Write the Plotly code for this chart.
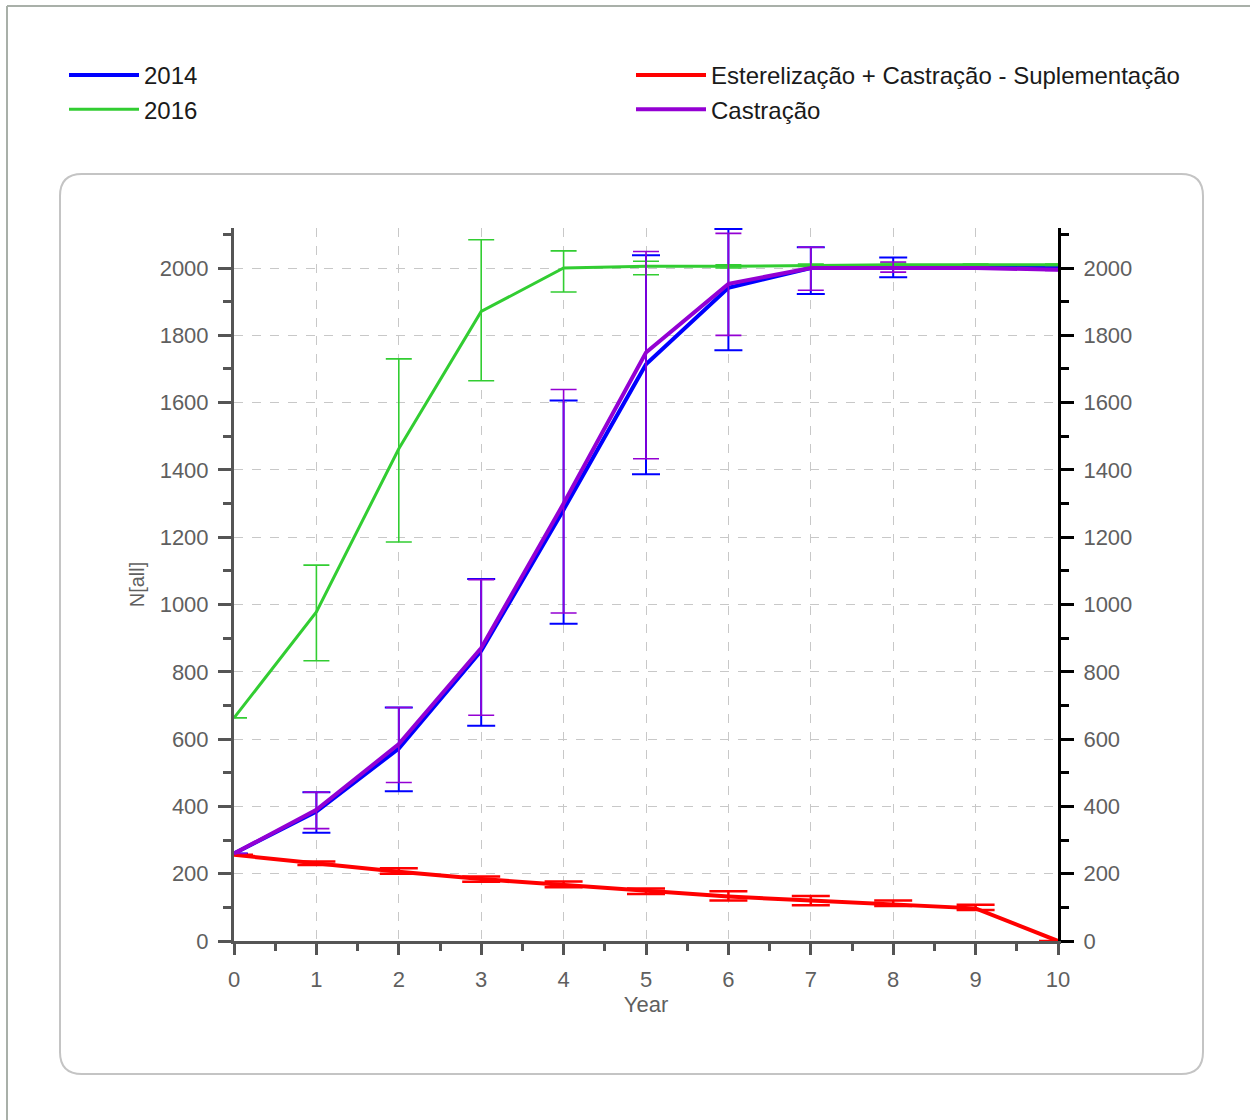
import plotly.graph_objects as go

# ---------------- data ----------------
years = [0, 1, 2, 3, 4, 5, 6, 7, 8, 9, 10]

s2014_mean  = [260, 385, 572, 862, 1282, 1714, 1941, 2000, 2003, 2000, 2000]
s2014_upper = [260, 442, 694, 1076, 1606, 2038, 2116, 2062, 2031, 2003, 2002]
s2014_lower = [260, 322, 445, 640, 943, 1387, 1756, 1923, 1973, 1997, 1998]

s2016_mean  = [663, 978, 1463, 1871, 2000, 2005, 2005, 2008, 2010, 2010, 2010]
s2016_upper = [663, 1117, 1730, 2084, 2051, 2020, 2010, 2012, 2015, 2012, 2012]
s2016_lower = [663, 833, 1186, 1665, 1929, 1980, 2000, 2005, 2005, 2008, 2008]

ester_mean  = [256, 231, 206, 184, 167, 150, 132, 120, 110, 97, 0]
ester_upper = [256, 236, 216, 192, 177, 156, 148, 134, 120, 108, 0]
ester_lower = [256, 226, 200, 176, 160, 140, 120, 106, 104, 92, 0]

castr_mean  = [260, 390, 585, 871, 1300, 1749, 1953, 2000, 2000, 2000, 1995]
castr_upper = [260, 442, 694, 1074, 1639, 2049, 2103, 2062, 2018, 2002, 1997]
castr_lower = [260, 334, 471, 671, 975, 1433, 1800, 1934, 1988, 1998, 1993]

y_ticks = list(range(0, 2001, 200))
x_ticks = years

names = ["2014", "2016", "Esterelização + Castração - Suplementação", "Castração"]
colors = ["#0000FF", "#32CD32", "#FF0000", "#9400D3"]

FONT = "Liberation Sans"

# ---------------- geometry helpers (pixel -> paper) ----------------
W, H = 1250, 1120
L, R, T, B = 234, 1058, 228, 941


def px(x):
    return (x - L) / (R - L)


def py(y):
    return (B - y) / (B - T)


def err(mean, up, lo):
    return [u - m for u, m in zip(up, mean)], [m - l for m, l in zip(mean, lo)]


fig = go.Figure()

# drawing order: 2014, 2016, Esterelização..., Castração (purple on top)
series = [
    (names[0], s2014_mean, s2014_upper, s2014_lower, colors[0], 4, 2.0, 14, "legend"),
    (names[1], s2016_mean, s2016_upper, s2016_lower, colors[1], 3, 1.6, 13, "legend"),
    (names[2], ester_mean, ester_upper, ester_lower, colors[2], 4, 2.5, 19, "legend2"),
    (names[3], castr_mean, castr_upper, castr_lower, colors[3], 4, 1.6, 13, "legend2"),
]

for name, m, up, lo, col, lw, et, ew, leg in series:
    plus, minus = err(m, up, lo)
    fig.add_trace(go.Scatter(
        x=years, y=m, name=name, mode="lines",
        line=dict(color=col, width=lw),
        error_y=dict(type="data", array=plus, arrayminus=minus, symmetric=False,
                     color=col, thickness=et, width=ew),
        legend=leg,
    ))

# dummy trace so the right axis is drawn
fig.add_trace(go.Scatter(x=[None], y=[None], yaxis="y2", showlegend=False,
                         hoverinfo="skip"))

tick_font = dict(family=FONT, size=22, color="#5f5f5f")
legend_font = dict(family=FONT, size=24, color="#1a1a1a")

fig.update_layout(
    width=W, height=H, autosize=False,
    margin=dict(l=L, r=W - R, t=T, b=H - B, pad=0),
    paper_bgcolor="white", plot_bgcolor="white",
    font=dict(family=FONT, size=22, color="#5f5f5f"),
    xaxis=dict(
        range=[0, 10], tickmode="array", tickvals=x_ticks,
        ticktext=[str(v) for v in x_ticks],
        showline=True, linecolor="#555555", linewidth=3,
        ticks="outside", ticklen=11, tickwidth=3, tickcolor="#555555",
        minor=dict(dtick=0.5, ticks="outside", ticklen=7, tickwidth=3,
                   tickcolor="#555555", showgrid=False),
        showgrid=True, gridcolor="#c8c8c8", griddash="dash", gridwidth=1,
        zeroline=False, tickfont=tick_font, ticklabelstandoff=6,
        title=dict(text="Year", font=dict(family=FONT, size=22, color="#5f5f5f"),
                   standoff=2),
    ),
    yaxis=dict(
        range=[0, 2119], tickmode="array", tickvals=y_ticks,
        ticktext=[str(v) for v in y_ticks],
        showline=True, linecolor="#555555", linewidth=3,
        ticks="outside", ticklen=13, tickwidth=3, tickcolor="#555555",
        minor=dict(dtick=100, ticks="outside", ticklen=8, tickwidth=3,
                   tickcolor="#555555", showgrid=False),
        showgrid=True, gridcolor="#c8c8c8", griddash="dash", gridwidth=1,
        zeroline=False, tickfont=tick_font, ticklabelstandoff=5,
        title=dict(text="N[all]", font=dict(family=FONT, size=20, color="#5f5f5f"),
                   standoff=10),
    ),
    yaxis2=dict(
        overlaying="y", side="right", matches="y",
        range=[0, 2119], tickmode="array", tickvals=y_ticks,
        ticktext=[str(v) for v in y_ticks],
        showline=True, linecolor="#000000", linewidth=3,
        ticks="outside", ticklen=13, tickwidth=3, tickcolor="#000000",
        minor=dict(dtick=100, ticks="outside", ticklen=8, tickwidth=3,
                   tickcolor="#000000", showgrid=False),
        showgrid=False, zeroline=False, tickfont=tick_font, ticklabelstandoff=5,
    ),
    legend=dict(
        orientation="v", x=px(64), y=py(53), xanchor="left", yanchor="top",
        font=legend_font, itemwidth=70,
        bgcolor="rgba(0,0,0,0)", borderwidth=0,
    ),
    legend2=dict(
        orientation="v", x=px(631), y=py(53), xanchor="left", yanchor="top",
        font=legend_font, itemwidth=70,
        bgcolor="rgba(0,0,0,0)", borderwidth=0,
    ),
    showlegend=True,
)

# rounded frame around the plot area
x0, x1, y0, y1, r = 60, 1203, 174, 1074, 22
pts = [
    ("M", (x0 + r, y0)), ("L", (x1 - r, y0)), ("Q", (x1, y0), (x1, y0 + r)),
    ("L", (x1, y1 - r)), ("Q", (x1, y1), (x1 - r, y1)),
    ("L", (x0 + r, y1)), ("Q", (x0, y1), (x0, y1 - r)),
    ("L", (x0, y0 + r)), ("Q", (x0, y0), (x0 + r, y0)),
]
path = ""
for cmd, *ps in pts:
    path += cmd + " " + " ".join(f"{px(a):.5f},{py(b):.5f}" for a, b in ps) + " "
path += "Z"
fig.add_shape(type="path", path=path, xref="paper", yref="paper",
              line=dict(color="#c4c4c4", width=2), layer="below")

# outer window frame (top and left edges)
fig.add_shape(type="line", xref="paper", yref="paper",
              x0=px(7), x1=px(1252), y0=py(6), y1=py(6),
              line=dict(color="#a9b0a9", width=2))
fig.add_shape(type="line", xref="paper", yref="paper",
              x0=px(7), x1=px(7), y0=py(6), y1=py(1122),
              line=dict(color="#a9b0a9", width=2))

fig.write_html("out.html")
